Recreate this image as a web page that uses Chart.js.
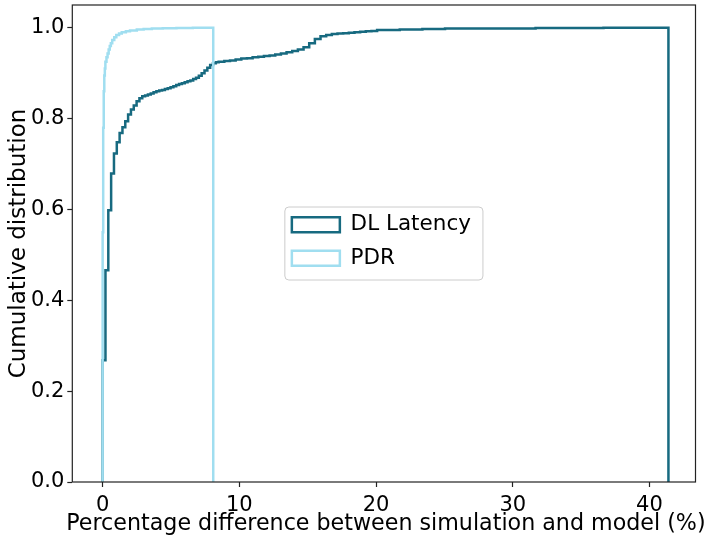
<!DOCTYPE html>
<html><head><meta charset="utf-8">
<script src="https://cdn.jsdelivr.net/npm/chart.js@4.4.1/dist/chart.umd.min.js"></script>
<style>html,body{margin:0;padding:0;background:#fff;}#wrap{width:709px;height:544px;}</style>
</head><body><div id="wrap"><canvas id="c" width="709" height="544"></canvas></div>
<script>
// ---- data ----
const seriesNames = ['DL Latency', 'PDR'];
const histStart = 0; // left edge of the first histogram bin
// right edges of the cumulative-histogram bins and the cumulative fraction in each bin
const dlEdges = [0.207, 0.414, 0.621, 0.828, 1.035, 1.242, 1.449, 1.656, 1.863, 2.070, 2.277, 2.484, 2.691, 2.898, 3.105,
  3.312, 3.519, 3.726, 3.933, 4.140, 4.347, 4.554, 4.761, 4.968, 5.175, 5.382, 5.589, 5.796, 6.003, 6.210, 6.417,
  6.624, 6.831, 7.038, 7.245, 7.452, 7.659, 7.866, 8.073, 8.280, 8.487,
  8.901, 9.315, 9.729, 10.143, 10.557, 10.971, 11.385, 11.799, 12.213, 12.627, 13.041, 13.455, 13.869, 14.283,
  14.697, 15.111, 15.525, 15.939, 16.353, 16.767, 17.181, 17.595, 18.009, 18.423, 18.837, 19.251, 19.665, 20.079,
  21.735, 23.391, 25.047, 27.531, 31.671, 36.639, 41.390];
const dlCdf = [0.268, 0.466, 0.598, 0.679, 0.723, 0.748, 0.768, 0.781, 0.794, 0.809, 0.820, 0.829, 0.838, 0.845, 0.849,
  0.851, 0.853, 0.855, 0.858, 0.860, 0.862, 0.863, 0.865, 0.867, 0.869, 0.871, 0.874, 0.876, 0.878, 0.880, 0.882,
  0.884, 0.887, 0.890, 0.894, 0.900, 0.906, 0.912, 0.918, 0.922, 0.924,
  0.925, 0.927, 0.928, 0.930, 0.932, 0.933, 0.935, 0.936, 0.938, 0.939, 0.941, 0.943, 0.946, 0.949,
  0.952, 0.957, 0.966, 0.975, 0.981, 0.984, 0.986, 0.987, 0.988, 0.989, 0.990, 0.991, 0.992, 0.993,
  0.995, 0.996, 0.997, 0.998, 0.9985, 0.9995, 1.0];
const pdrEdges = [0.04, 0.08, 0.12, 0.16, 0.20, 0.28, 0.36, 0.44, 0.52, 0.60, 0.70, 0.85, 1.00, 1.20, 1.40, 1.70,
  2.00, 2.50, 3.00, 3.60, 4.40, 5.40, 6.60, 8.09];
const pdrCdf = [0.55, 0.78, 0.86, 0.895, 0.91, 0.925, 0.935, 0.943, 0.952, 0.96, 0.966, 0.973, 0.979, 0.984, 0.987, 0.990,
  0.992, 0.994, 0.996, 0.997, 0.998, 0.9988, 0.9994, 1.0];
const xTicks = [0, 10, 20, 30, 40];
const yTicks = [0.0, 0.2, 0.4, 0.6, 0.8, 1.0];
const xLabel = 'Percentage difference between simulation and model (%)';
const yLabel = 'Cumulative distribution';

// ---- styling ----
const FONT = 'DejaVu Sans';
const colors = ['#176a80', '#a0def0'];
const XTITLE_SIZE = 22.2, XTITLE_PAD = 6;
const xTitleHeight = XTITLE_SIZE * 1.2 + XTITLE_PAD;

function stepPoints(edges, cdf) {
  const pts = [{x: histStart, y: 0}];
  edges.forEach((e, i) => pts.push({x: e, y: cdf[i]}));
  pts.push({x: edges[edges.length - 1], y: 0});
  return pts;
}

const layoutTweaks = {
  id: 'layoutTweaks',
  afterLayout(chart) {
    const ca = chart.chartArea;
    // x-axis label: centred under the axes, allowed to be wider than the axes
    const tb = chart.titleBlock;
    if (tb) {
      const cx = (ca.left + ca.right) / 2 + 2, half = chart.width / 2;
      tb.left = cx - half; tb.right = cx + half;
    }
    // legend: centred in the plot area, inside a frame
    const lg = chart.legend; if (!lg) return;
    const pad = lg.options.labels.padding;
    const colW = lg.columnSizes[0].width, colH = lg.columnSizes[0].height;
    const fw = colW + 19, fh = (colH - pad) + 18;
    const fx = (ca.left + ca.right) / 2 - fw / 2, fy = (ca.top + ca.bottom) / 2 - fh / 2;
    chart.$frame = {x: fx, y: fy, w: fw, h: fh};
    lg.left = fx + 7 - pad; lg.top = fy + 7 - pad;
    lg.right = fx + fw + pad; lg.bottom = fy + fh + pad;
  },
  afterDraw(chart) {
    const ctx = chart.ctx, f = chart.$frame, ca = chart.chartArea;
    ctx.save();
    if (f) {
      ctx.strokeStyle = '#cccccc'; ctx.lineWidth = 1;
      ctx.beginPath(); ctx.roundRect(f.x, f.y, f.w, f.h, 4); ctx.stroke();
    }
    ctx.strokeStyle = '#222'; ctx.lineWidth = 1.2;
    ctx.strokeRect(ca.left, ca.top, ca.right - ca.left, ca.bottom - ca.top);
    ctx.restore();
  }
};

new Chart(document.getElementById('c'), {
  type: 'line',
  data: {
    datasets: [
      {label: seriesNames[0], data: stepPoints(dlEdges, dlCdf), borderColor: colors[0], backgroundColor: '#ffffff', order: 1},
      {label: seriesNames[1], data: stepPoints(pdrEdges, pdrCdf), borderColor: colors[1], backgroundColor: '#ffffff', order: 0}
    ]
  },
  options: {
    responsive: false, animation: false, devicePixelRatio: 1,
    layout: {padding: {top: 5, right: 13.5, left: 0, bottom: 0}},
    datasets: {line: {stepped: 'after', pointRadius: 0, borderWidth: 2.5, fill: false, tension: 0, borderJoinStyle: 'miter'}},
    plugins: {
      tooltip: {enabled: false},
      title: {display: true, position: 'bottom', text: xLabel, color: '#000', fullSize: true,
        font: {family: FONT, size: XTITLE_SIZE, weight: 'normal', lineHeight: 1.2}, padding: {top: 0, bottom: XTITLE_PAD}},
      legend: {
        position: 'chartArea', align: 'start',
        labels: {boxWidth: 48, boxHeight: 15, padding: 12, color: '#000', font: {family: FONT, size: 21.5},
          sort: (a, b) => a.datasetIndex - b.datasetIndex}
      }
    },
    scales: {
      x: {
        type: 'linear', min: -2.22, max: 43.37,
        afterBuildTicks: s => { s.ticks = xTicks.map(v => ({value: v})); },
        afterFit: s => { s.height = 62 - xTitleHeight; s.paddingLeft = 0; s.paddingRight = 0; },
        ticks: {color: '#000', font: {family: FONT, size: 21}, padding: 6, maxRotation: 0, autoSkip: false},
        grid: {drawOnChartArea: false, drawTicks: true, tickLength: 5, tickColor: '#222', tickWidth: 1.2},
        border: {display: false}
      },
      y: {
        type: 'linear', min: 0, max: 1.05,
        afterBuildTicks: s => { s.ticks = yTicks.map(v => ({value: v})); },
        afterFit: s => { s.width = 72.3; s.paddingTop = 0; s.paddingBottom = 0; },
        ticks: {color: '#000', font: {family: FONT, size: 21}, padding: 3, callback: v => Number(v).toFixed(1)},
        grid: {drawOnChartArea: false, drawTicks: true, tickLength: 5, tickColor: '#222', tickWidth: 1.2},
        border: {display: false},
        title: {display: true, text: yLabel, color: '#000', font: {family: FONT, size: 23}, padding: {top: 5, bottom: 0}}
      }
    }
  },
  plugins: [layoutTweaks]
});
</script></body></html>
